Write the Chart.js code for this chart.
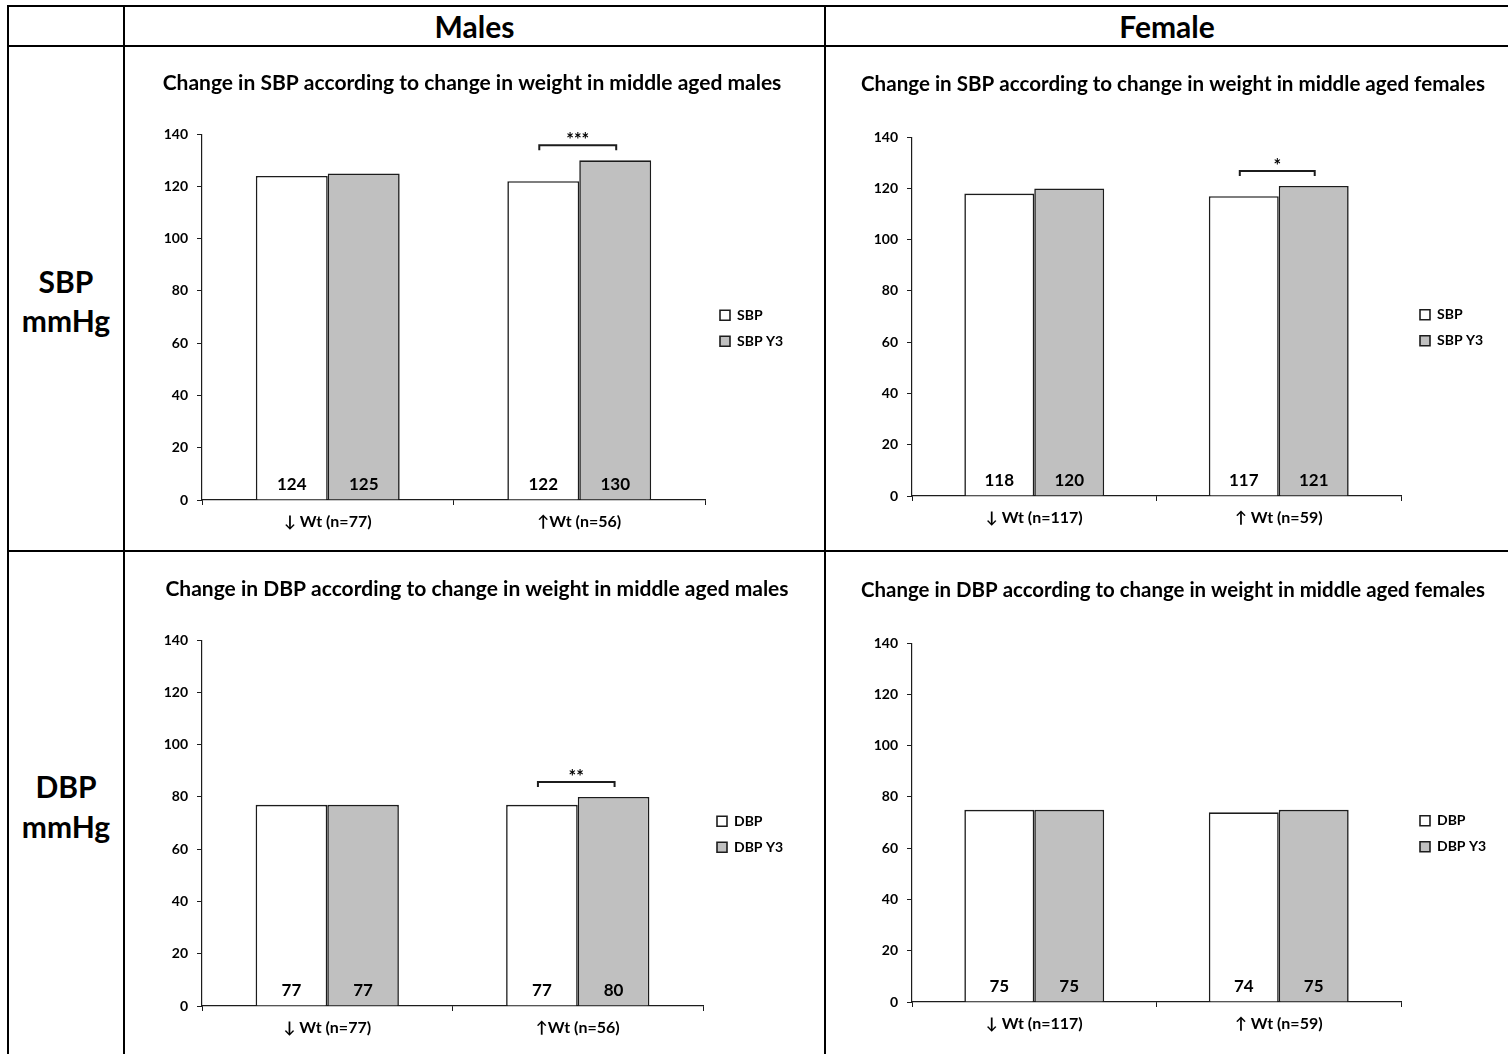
<!DOCTYPE html>
<html>
<head>
<meta charset="utf-8">
<script src="https://cdn.jsdelivr.net/npm/chart.js@4.4.1/dist/chart.umd.min.js"></script>
<style>
  html, body { margin: 0; padding: 0; background: #fff; }
  body { position: relative; width: 1508px; height: 1054px; overflow: hidden; font-family: Lato, "Noto Sans", sans-serif; color: #000; }
  .rule { position: absolute; background: #000; }
  .head { position: absolute; font-weight: 700; font-size: 30px; text-align: center; line-height: 40px; }
  .panel { position: absolute; }
  .panel canvas { display: block; }
</style>
</head>
<body>
  <!-- table grid -->
  <div class="rule" style="left:7px; top:5px; width:1501px; height:2px;"></div>
  <div class="rule" style="left:7px; top:45px; width:1501px; height:2px;"></div>
  <div class="rule" style="left:7px; top:550px; width:1501px; height:2px;"></div>
  <div class="rule" style="left:7px; top:5px; width:2px; height:1049px;"></div>
  <div class="rule" style="left:123px; top:5px; width:2px; height:1049px;"></div>
  <div class="rule" style="left:824px; top:5px; width:2px; height:1049px;"></div>

  <!-- column and row headings -->
  <div class="head" style="left:125px; top:6px; width:699px;">Males</div>
  <div class="head" style="left:826px; top:6px; width:682px;">Female</div>
  <div class="head" style="left:9px; top:261px; width:114px;">SBP</div>
  <div class="head" style="left:9px; top:300px; width:114px;">mmHg</div>
  <div class="head" style="left:9px; top:766px; width:114px;">DBP</div>
  <div class="head" style="left:9px; top:806px; width:114px;">mmHg</div>

  <div class="panel" style="left:126px; top:48px;"><canvas id="maleSbp" width="697" height="501"></canvas></div>
  <div class="panel" style="left:827px; top:48px;"><canvas id="femaleSbp" width="681" height="501"></canvas></div>
  <div class="panel" style="left:126px; top:553px;"><canvas id="maleDbp" width="697" height="501"></canvas></div>
  <div class="panel" style="left:827px; top:553px;"><canvas id="femaleDbp" width="681" height="501"></canvas></div>

<script>
// ---- data ----
const yTickValues = [0, 20, 40, 60, 80, 100, 120, 140];

const maleCategories = ['↓ Wt (n=77)', '↑Wt (n=56)'];
const femaleCategories = ['↓ Wt (n=117)', '↑ Wt (n=59)'];

const sbpSeriesNames = ['SBP', 'SBP Y3'];
const dbpSeriesNames = ['DBP', 'DBP Y3'];

const maleSbpBaseline = [124, 122];
const maleSbpYear3 = [125, 130];
const maleSbpSignificance = ['', '***'];

const femaleSbpBaseline = [118, 117];
const femaleSbpYear3 = [120, 121];
const femaleSbpSignificance = ['', '*'];

const maleDbpBaseline = [77, 77];
const maleDbpYear3 = [77, 80];
const maleDbpSignificance = ['', '**'];

const femaleDbpBaseline = [75, 74];
const femaleDbpYear3 = [75, 75];
const femaleDbpSignificance = ['', ''];

// ---- drawing helpers ----
const FONT = 'Lato, "Noto Sans", sans-serif';
const INK = '#1c1c1c';
const GREY = '#c0c0c0';

// Positions the title and the legend once the layout is known.
const blockPlacement = {
  id: 'blockPlacement',
  afterLayout(chart, args, opts) {
    const t = chart.titleBlock;
    if (t) {
      const tw = t.right - t.left;
      t.left = opts.titleCenter - tw / 2;
      t.right = t.left + tw;
    }
    const lg = chart.legend;
    if (!lg) return;
    const ca = chart.chartArea;
    const pad = lg.options.labels.padding;
    const fontSize = lg.options.labels.font.size;
    const h = lg.height;
    lg.left = ca.right + opts.legendDx - pad;
    lg.right = chart.width;            // room for the longest label
    lg.width = lg.right - lg.left;
    const firstCenter = ca.top + opts.legendFrac * (ca.bottom - ca.top);
    lg.top = firstCenter - pad - fontSize / 2;
    lg.bottom = lg.top + h;
  }
};

// Writes each bar's value just above the baseline, inside the bar.
const barValues = {
  id: 'barValues',
  afterDatasetsDraw(chart, args, opts) {
    const { ctx } = chart;
    const base = chart.scales.y.getPixelForValue(0);
    ctx.save();
    ctx.font = `700 ${opts.size}px ${FONT}`;
    ctx.fillStyle = '#000';
    ctx.textAlign = 'center';
    ctx.textBaseline = 'middle';
    chart.data.datasets.forEach((ds, di) => {
      chart.getDatasetMeta(di).data.forEach((bar, i) => {
        ctx.fillText(String(ds.data[i]), bar.x, base - opts.offset);
      });
    });
    ctx.restore();
  }
};

// Significance bracket joining the two bars of a group.
const sigBracket = {
  id: 'sigBracket',
  afterDatasetsDraw(chart, args, opts) {
    const marks = opts.marks || [];
    const { ctx } = chart;
    ctx.save();
    ctx.strokeStyle = INK;
    ctx.lineWidth = 2;
    ctx.fillStyle = '#000';
    ctx.font = `700 18px ${FONT}`;
    ctx.textAlign = 'center';
    ctx.textBaseline = 'alphabetic';
    marks.forEach((mark, i) => {
      if (!mark) return;
      const a = chart.getDatasetMeta(0).data[i];
      const b = chart.getDatasetMeta(1).data[i];
      const ly = Math.min(a.y, b.y) - opts.gap;
      const x1 = a.x - 4, x2 = b.x + 1;
      ctx.beginPath();
      ctx.moveTo(x1, ly + 5);
      ctx.lineTo(x1, ly);
      ctx.lineTo(x2, ly);
      ctx.lineTo(x2, ly + 5);
      ctx.stroke();
      ctx.fillText(mark, (x1 + x2) / 2, ly + 1);
    });
    ctx.restore();
  }
};

function drawPanel(id, p) {
  const canvas = document.getElementById(id);
  new Chart(canvas, {
    type: 'bar',
    data: {
      labels: p.categories,
      datasets: [
        { label: p.names[0], data: p.baseline, backgroundColor: '#ffffff', borderColor: INK, borderWidth: 1.6 },
        { label: p.names[1], data: p.year3, backgroundColor: GREY, borderColor: INK, borderWidth: 1.6 }
      ]
    },
    options: {
      responsive: false,
      animation: false,
      events: [],
      layout: { padding: { left: p.padLeft, right: p.padRight, top: 0, bottom: p.padBottom } },
      datasets: { bar: { categoryPercentage: 0.572, barPercentage: 1.0 } },
      scales: {
        x: {
          grid: { display: true, drawOnChartArea: false, drawTicks: true, tickLength: 5, color: INK, lineWidth: 1 },
          border: { display: true, color: INK, width: 1.2 },
          ticks: { color: '#000', font: { family: FONT, size: 16, weight: '700' }, padding: 7, maxRotation: 0 },
          afterFit(scale) { scale.height = p.xHeight; }
        },
        y: {
          min: 0,
          max: yTickValues[yTickValues.length - 1],
          afterBuildTicks(scale) { scale.ticks = yTickValues.map(v => ({ value: v })); },
          grid: { display: true, drawOnChartArea: false, drawTicks: true, tickLength: 5, color: INK, lineWidth: 1 },
          border: { display: true, color: INK, width: 1.2 },
          ticks: { color: '#000', font: { family: FONT, size: 14, weight: '700' }, padding: 9 },
          afterFit(scale) { scale.width = 60; }
        }
      },
      plugins: {
        title: {
          display: true,
          text: p.title,
          color: '#000',
          font: { family: FONT, size: 21, weight: '700' },
          padding: { top: p.titleTop, bottom: p.titleBottom }
        },
        legend: {
          display: true,
          position: 'right',
          align: 'start',
          fullSize: false,
          maxWidth: 75,
          labels: {
            color: '#000',
            boxWidth: 10,
            boxHeight: 10,
            padding: 12,
            font: { family: FONT, size: 14, weight: '700' }
          }
        },
        tooltip: { enabled: false },
        blockPlacement: { titleCenter: p.titleCenter, legendDx: p.legendDx, legendFrac: 0.495 },
        barValues: { size: 17, offset: 15 },
        sigBracket: { marks: p.significance, gap: 15 }
      }
    },
    plugins: [blockPlacement, barValues, sigBracket]
  });
}

drawPanel('maleSbp', {
  title: 'Change in SBP according to change in weight in middle aged males',
  categories: maleCategories, names: sbpSeriesNames,
  baseline: maleSbpBaseline, year3: maleSbpYear3, significance: maleSbpSignificance,
  padLeft: 16, padRight: 43, padBottom: 13, xHeight: 36,
  titleTop: 23, titleBottom: 38, titleCenter: 346, legendDx: 15
});
drawPanel('femaleSbp', {
  title: 'Change in SBP according to change in weight in middle aged females',
  categories: femaleCategories, names: sbpSeriesNames,
  baseline: femaleSbpBaseline, year3: femaleSbpYear3, significance: femaleSbpSignificance,
  padLeft: 25, padRight: 32, padBottom: 17, xHeight: 36,
  titleTop: 24, titleBottom: 40, titleCenter: 346, legendDx: 19
});
drawPanel('maleDbp', {
  title: 'Change in DBP according to change in weight in middle aged males',
  categories: maleCategories, names: dbpSeriesNames,
  baseline: maleDbpBaseline, year3: maleDbpYear3, significance: maleDbpSignificance,
  padLeft: 16, padRight: 45, padBottom: 12, xHeight: 36,
  titleTop: 24, titleBottom: 38, titleCenter: 351, legendDx: 14
});
drawPanel('femaleDbp', {
  title: 'Change in DBP according to change in weight in middle aged females',
  categories: femaleCategories, names: dbpSeriesNames,
  baseline: femaleDbpBaseline, year3: femaleDbpYear3, significance: femaleDbpSignificance,
  padLeft: 25, padRight: 32, padBottom: 16, xHeight: 36,
  titleTop: 25, titleBottom: 40, titleCenter: 346, legendDx: 19
});
</script>
</body>
</html>
